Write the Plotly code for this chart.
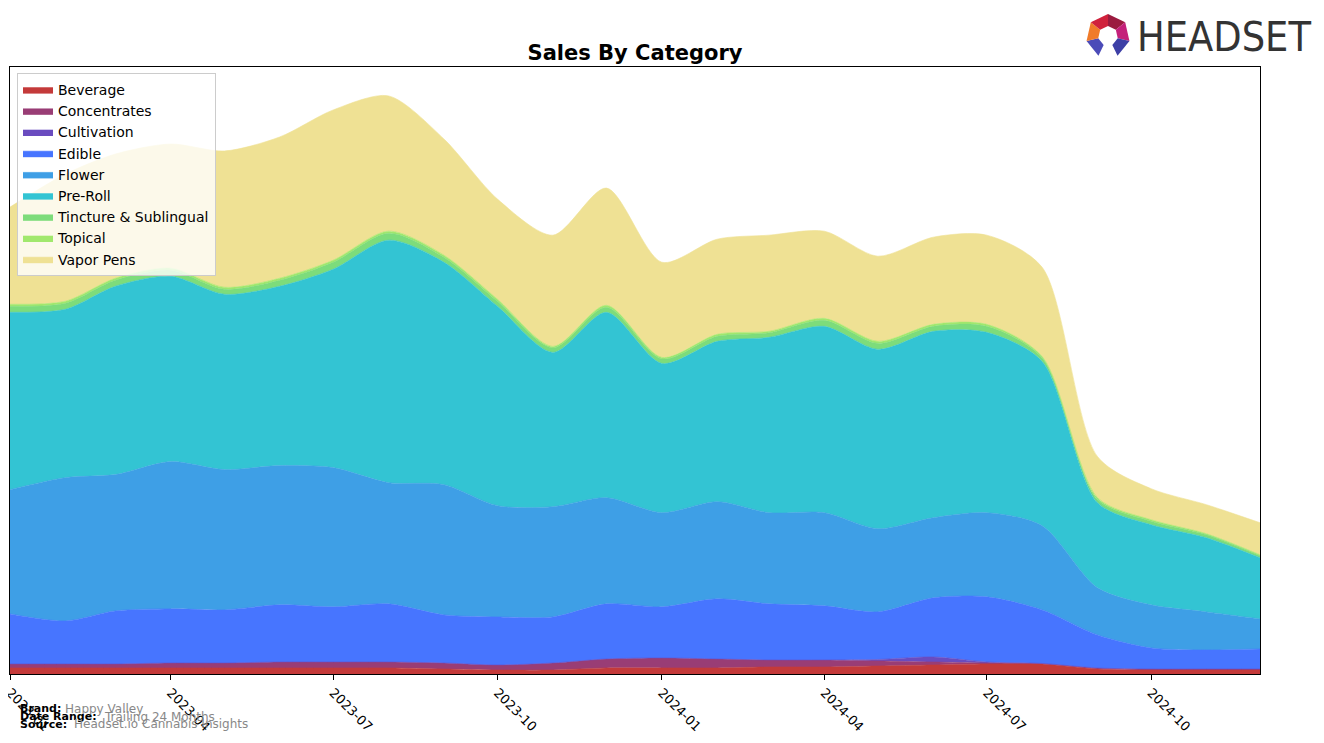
import math
import plotly.graph_objects as go

# ---------------- data (arbitrary sales units) ----------------
months = ["2023-01-01", "2023-02-01", "2023-03-01", "2023-04-01", "2023-05-01", "2023-06-01",
          "2023-07-01", "2023-08-01", "2023-09-01", "2023-10-01", "2023-11-01", "2023-12-01",
          "2024-01-01", "2024-02-01", "2024-03-01", "2024-04-01", "2024-05-01", "2024-06-01",
          "2024-07-01", "2024-08-01", "2024-09-01", "2024-10-01", "2024-11-01", "2024-12-01"]

beverage = [6, 6, 6, 6, 6, 6, 6, 6, 5, 4, 4, 6, 6, 6, 7, 7, 8, 9, 10, 10, 5, 4, 4, 4]
concentrates = [4, 4, 4, 5, 5, 6, 6, 6, 6, 5, 7, 9, 10, 9, 7, 7, 5, 3, 1, 0.5, 1, 1, 1, 1]
cultivation = [0, 0, 0, 0, 0, 0, 0, 0, 0, 0, 0, 0, 0, 0, 0, 0, 1.5, 5, 1, 0, 0, 0, 0, 0]
edible = [50, 43, 53, 54, 53, 57, 55, 58, 48, 48, 46, 55, 51, 60, 56, 54, 47.5, 59, 65, 53.5, 33, 21, 19, 20]
flower = [124, 143, 136, 147, 140, 139, 139, 121, 130, 111, 110, 106, 94, 97, 91, 93, 83, 80, 84, 84, 47, 43, 38, 30]
pre_roll = [177, 168, 188, 185, 175, 179, 198, 242, 222, 199, 154, 185, 149, 160, 175, 186, 179, 186, 180, 164, 85, 80, 74, 61]
tincture = [6, 6, 6, 6, 5, 6, 7, 7, 5, 5, 4.5, 5, 4.5, 5, 4.5, 6, 6, 5, 6, 3.5, 3.5, 3.5, 3, 2]
topical = [2, 2, 2, 2, 2, 2, 2, 2, 2, 2, 1.5, 2, 1.5, 2, 1.5, 2, 2, 2, 2, 1.5, 1.5, 1.5, 1, 1]
vapor_pens = [97, 127, 124, 124, 136, 141, 150, 135, 116, 100, 111, 117, 95, 95, 96, 87, 85, 87, 89, 89, 41, 31, 29, 32]

categories = ["Beverage", "Concentrates", "Cultivation", "Edible", "Flower", "Pre-Roll",
              "Tincture & Sublingual", "Topical", "Vapor Pens"]
series = [beverage, concentrates, cultivation, edible, flower, pre_roll, tincture, topical, vapor_pens]
colors = ["#c43a3a", "#993d75", "#6a4cbf", "#4775ff", "#3e9fe6", "#33c4d3",
          "#7ddc7b", "#a1e86d", "#efe194"]

tick_values = ["2023-01-01", "2023-04-01", "2023-07-01", "2023-10-01",
               "2024-01-01", "2024-04-01", "2024-07-01", "2024-10-01"]

# ---------------- figure geometry ----------------
# the page body has an 8px margin, so the figure is drawn 8px right/down of the window corner
OFF = 8
WIN_W, WIN_H = 1324, 743
W, H = WIN_W - OFF, WIN_H - OFF
PL, PR, PT, PB = 10, 1260, 67, 674          # plot area in window pixels
ML, MT = PL - OFF, PT - OFF
MR, MB = W - (PR - OFF), H - (PB - OFF)
PW, PH = PR - PL, PB - PT

fig = go.Figure()
for name, vals, col in zip(categories, series, colors):
    fig.add_trace(go.Scatter(
        x=months, y=vals, name=name, mode="lines", stackgroup="one",
        line=dict(width=0.6, color=col, shape="spline", smoothing=0.8),
        fillcolor=col, hoverinfo="x+y+name",
    ))

totals = [sum(v) for v in zip(*series)]
ymax = max(totals) * 1.05


def px(xw):
    """window x pixel -> paper coordinate"""
    return (xw - PL) / PW


def py(yw):
    """window y pixel -> paper coordinate"""
    return (PB - yw) / PH


fig.update_layout(
    width=W, height=H,
    margin=dict(l=ML, r=MR, t=MT, b=MB, pad=0),
    paper_bgcolor="white", plot_bgcolor="white",
    font=dict(family="DejaVu Sans", size=13, color="black"),
    title=dict(text="<b>Sales By Category</b>", x=px(635), xref="paper", xanchor="center",
               y=1 - (53 - OFF) / H, yref="container", yanchor="middle",
               font=dict(family="DejaVu Sans", size=21, color="black")),
    showlegend=True,
    legend=dict(x=px(17), y=py(73), xanchor="left", yanchor="top",
                bgcolor="rgba(255,255,255,0.8)", bordercolor="#cccccc", borderwidth=1,
                traceorder="normal", font=dict(family="DejaVu Sans", size=14)),
    xaxis=dict(range=[months[0], months[-1]], tickvals=tick_values, tickformat="%Y-%m",
               tickangle=45, ticks="outside", ticklen=5, tickcolor="black",
               ticklabeloverflow="allow",
               showline=True, linecolor="black", linewidth=1, mirror=True,
               showgrid=False, zeroline=False, automargin=False,
               tickfont=dict(family="DejaVu Sans", size=13, color="black")),
    yaxis=dict(range=[0, ymax], showticklabels=False, ticks="", showgrid=False,
               showline=True, linecolor="black", linewidth=1, mirror=True,
               zeroline=False, automargin=False),
)

# ---------------- footer texts ----------------
footer = [("Brand:", "Happy Valley", 709, 64),
          ("Date Range:", "Trailing 24 Months", 717, 103),
          ("Source:", "Headset.io Cannabis Insights", 724, 73)]
for label, value, ycen, xval in footer:
    fig.add_annotation(text="<b>" + label + "</b>", xref="paper", yref="paper",
                       x=px(18), y=py(ycen), xanchor="left", yanchor="middle", showarrow=False,
                       font=dict(family="DejaVu Sans", size=11, color="black"))
    fig.add_annotation(text=value, xref="paper", yref="paper",
                       x=px(xval - 1), y=py(ycen), xanchor="left", yanchor="middle", showarrow=False,
                       font=dict(family="DejaVu Sans", size=12, color="#888888"))

# ---------------- logo ----------------
fig.add_annotation(text="HEADSET", xref="paper", yref="paper", x=px(1224), y=py(37),
                   xanchor="center", yanchor="middle", showarrow=False,
                   font=dict(family="Liberation Sans Narrow, DejaVu Sans Condensed, Roboto, sans-serif",
                             size=41, color="#333333"))

cx, cy, R, r = 1108, 36, 22, 10
seg_colors = ["#9b1b3f", "#c4207a", "#3d3fa6", None, "#4b4bb8", "#f07b2a", "#d0213c"]
for k in range(7):
    if seg_colors[k] is None:
        continue
    a0 = math.radians(90 - k * 360 / 7)
    a1 = math.radians(90 - (k + 1) * 360 / 7)
    pts = [(cx + R * math.cos(a0), cy - R * math.sin(a0)),
           (cx + R * math.cos(a1), cy - R * math.sin(a1)),
           (cx + r * math.cos(a1), cy - r * math.sin(a1)),
           (cx + r * math.cos(a0), cy - r * math.sin(a0))]
    path = "M " + " L ".join(f"{px(a)},{py(b)}" for a, b in pts) + " Z"
    fig.add_shape(type="path", path=path, xref="paper", yref="paper",
                  fillcolor=seg_colors[k], line=dict(width=0), layer="above")

fig.write_html("out.html")
